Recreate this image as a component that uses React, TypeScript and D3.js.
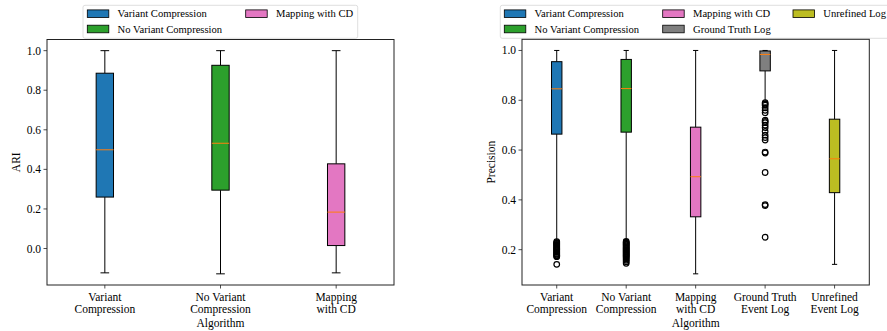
import * as d3 from "d3";

// ---- ARI panel data ----
const ariLabels = [
  ["Variant", "Compression"],
  ["No Variant", "Compression"],
  ["Mapping", "with CD"],
];
const ariColors = ["#1f77b4", "#2ca02c", "#e377c2"];
const ariWhiskerLow = [-0.123, -0.128, -0.123];
const ariQ1 = [0.26, 0.295, 0.015];
const ariMedian = [0.499, 0.532, 0.184];
const ariQ3 = [0.886, 0.926, 0.428];
const ariWhiskerHigh = [1.0, 1.0, 1.0];
const ariFliers: number[][] = [[], [], []];
const ariTicks = [0.0, 0.2, 0.4, 0.6, 0.8, 1.0];
const ariLegend = ["Variant Compression", "No Variant Compression", "Mapping with CD"];

// ---- Precision panel data ----
const precLabels = [
  ["Variant", "Compression"],
  ["No Variant", "Compression"],
  ["Mapping", "with CD"],
  ["Ground Truth", "Event Log"],
  ["Unrefined", "Event Log"],
];
const precColors = ["#1f77b4", "#2ca02c", "#e377c2", "#7f7f7f", "#bcbd22"];
const precWhiskerLow = [0.235, 0.24, 0.103, 0.795, 0.141];
const precQ1 = [0.664, 0.672, 0.332, 0.918, 0.429];
const precMedian = [0.846, 0.847, 0.493, 0.984, 0.565];
const precQ3 = [0.955, 0.964, 0.692, 0.998, 0.724];
const precWhiskerHigh = [1.0, 1.0, 1.0, 1.0, 1.0];
const precFliers: number[][] = [
  [0.232, 0.228, 0.225, 0.221, 0.218, 0.214, 0.21, 0.206, 0.203, 0.2, 0.196, 0.192, 0.189, 0.185, 0.182, 0.178, 0.175, 0.172, 0.141],
  [0.233, 0.229, 0.226, 0.222, 0.219, 0.215, 0.211, 0.207, 0.204, 0.2, 0.197, 0.193, 0.19, 0.186, 0.183, 0.179, 0.176, 0.172, 0.168, 0.163, 0.158, 0.152, 0.145],
  [],
  [0.79, 0.785, 0.78, 0.77, 0.76, 0.75, 0.72, 0.715, 0.71, 0.7, 0.69, 0.675, 0.66, 0.65, 0.64, 0.592, 0.588, 0.51, 0.381, 0.377, 0.25],
  [],
];
const precTicks = [0.2, 0.4, 0.6, 0.8, 1.0];
const precLegend = ["Variant Compression", "No Variant Compression", "Mapping with CD", "Ground Truth Log", "Unrefined Log"];

const FONT = "'Times New Roman', Times, 'Liberation Serif', 'DejaVu Serif', 'Noto Serif', serif";
const MEDIAN = "#ff7f0e";
const txt = { fontFamily: FONT };

interface PanelProps {
  left: number;
  right: number;
  top: number;
  bottom: number;
  labels: string[][];
  colors: string[];
  lo: number[];
  q1: number[];
  med: number[];
  q3: number[];
  hi: number[];
  fliers: number[][];
  ticks: number[];
  yLabel: string;
  yLabelX: number;
}

function BoxPanel(p: PanelProps) {
  const n = p.labels.length;
  const all = [...p.lo, ...p.hi, ...p.fliers.flat()];
  const mn = d3.min(all) as number;
  const mx = d3.max(all) as number;
  const pad = (mx - mn) * 0.05;
  const y = d3.scaleLinear().domain([mn - pad, mx + pad]).range([p.bottom, p.top]);
  const x = d3.scaleLinear().domain([0.5, n + 0.5]).range([p.left, p.right]);
  const bw = x(1.15) - x(1);
  const cw = bw / 2;
  const cx = (p.left + p.right) / 2;

  return (
    <g>
      {p.labels.map((_, i) => {
        const xc = x(i + 1);
        return (
          <g key={i}>
            <line x1={xc} x2={xc} y1={y(p.q1[i])} y2={y(p.lo[i])} stroke="#000" strokeWidth={1} />
            <line x1={xc} x2={xc} y1={y(p.q3[i])} y2={y(p.hi[i])} stroke="#000" strokeWidth={1} />
            <line x1={xc - cw / 2} x2={xc + cw / 2} y1={y(p.lo[i])} y2={y(p.lo[i])} stroke="#000" strokeWidth={1} />
            <line x1={xc - cw / 2} x2={xc + cw / 2} y1={y(p.hi[i])} y2={y(p.hi[i])} stroke="#000" strokeWidth={1} />
            <rect
              x={xc - bw / 2}
              y={y(p.q3[i])}
              width={bw}
              height={y(p.q1[i]) - y(p.q3[i])}
              fill={p.colors[i]}
              stroke="#000"
              strokeWidth={1}
            />
            <line x1={xc - bw / 2} x2={xc + bw / 2} y1={y(p.med[i])} y2={y(p.med[i])} stroke={MEDIAN} strokeWidth={1} />
            {p.fliers[i].map((v, j) => (
              <circle key={j} cx={xc} cy={y(v)} r={2.8} fill="none" stroke="#000" strokeWidth={1.2} />
            ))}
          </g>
        );
      })}
      <rect x={p.left} y={p.top} width={p.right - p.left} height={p.bottom - p.top} fill="none" stroke="#222" strokeWidth={1} />
      {p.ticks.map((t) => (
        <g key={t}>
          <line x1={p.left - 3.5} x2={p.left} y1={y(t)} y2={y(t)} stroke="#222" strokeWidth={0.8} />
          <text x={p.left - 6} y={y(t)} textAnchor="end" dominantBaseline="central" fontSize={11.5} style={txt} fill="#000">
            {t.toFixed(1)}
          </text>
        </g>
      ))}
      {p.labels.map((lab, i) => (
        <g key={i}>
          <line x1={x(i + 1)} x2={x(i + 1)} y1={p.bottom} y2={p.bottom + 3.5} stroke="#222" strokeWidth={0.8} />
          {lab.map((s, k) => (
            <text key={k} x={x(i + 1)} y={p.bottom + 15.5 + k * 12.4} textAnchor="middle" fontSize={11.5} style={txt} fill="#000">
              {s}
            </text>
          ))}
        </g>
      ))}
      <text x={cx} y={p.bottom + 42.3} textAnchor="middle" fontSize={11.5} style={txt} fill="#000">
        Algorithm
      </text>
      <text
        transform={`translate(${p.yLabelX},${(p.top + p.bottom) / 2}) rotate(-90)`}
        textAnchor="middle"
        dominantBaseline="central"
        fontSize={11.5}
        style={txt}
        fill="#000"
      >
        {p.yLabel}
      </text>
    </g>
  );
}

interface LegendProps {
  x: number;
  width: number;
  names: string[];
  colors: string[];
  colX: number[];
}

function Legend(l: LegendProps) {
  const rows = [13.7, 29];
  return (
    <g>
      <rect x={l.x} y={5.3} width={l.width} height={33} rx={2} fill="#fff" fillOpacity={0.8} stroke="#d6d6d6" strokeWidth={0.8} />
      {l.names.map((nm, i) => {
        const col = Math.floor(i / 2);
        const row = i % 2;
        const px = l.x + l.colX[col];
        return (
          <g key={nm}>
            <rect x={px} y={rows[row] - 3.8} width={21.5} height={7.6} fill={l.colors[i]} stroke="#000" strokeWidth={0.8} />
            <text x={px + 30.3} y={rows[row]} dominantBaseline="central" fontSize={10.6} style={txt} fill="#000">
              {nm}
            </text>
          </g>
        );
      })}
    </g>
  );
}

export default function App() {
  return (
    <svg width={887} height={331} style={{ position: "absolute", left: 0, top: 0, background: "#fff" }}>
      <Legend x={83} width={274.7} names={ariLegend} colors={ariColors} colX={[4.3, 162.7]} />
      <BoxPanel
        left={47}
        right={394}
        top={39.5}
        bottom={285}
        labels={ariLabels}
        colors={ariColors}
        lo={ariWhiskerLow}
        q1={ariQ1}
        med={ariMedian}
        q3={ariQ3}
        hi={ariWhiskerHigh}
        fliers={ariFliers}
        ticks={ariTicks}
        yLabel="ARI"
        yLabelX={15.7}
      />
      <Legend x={500.3} width={400} names={precLegend} colors={precColors} colX={[4, 162.4, 292.7]} />
      <BoxPanel
        left={522}
        right={869.3}
        top={39.3}
        bottom={285}
        labels={precLabels}
        colors={precColors}
        lo={precWhiskerLow}
        q1={precQ1}
        med={precMedian}
        q3={precQ3}
        hi={precWhiskerHigh}
        fliers={precFliers}
        ticks={precTicks}
        yLabel="Precision"
        yLabelX={490.7}
      />
    </svg>
  );
}
